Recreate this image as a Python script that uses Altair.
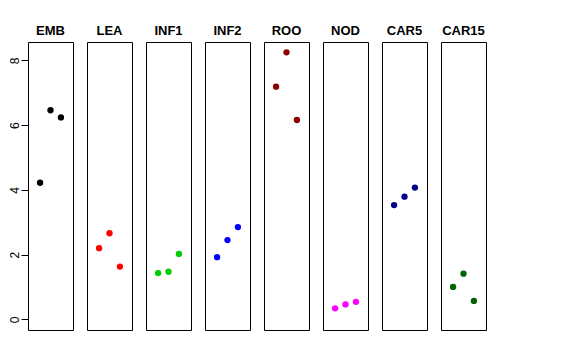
import altair as alt
import pandas as pd

panels = ["EMB", "LEA", "INF1", "INF2", "ROO", "NOD", "CAR5", "CAR15"]
colors = ["#000000", "#FF0000", "#00CD00", "#0000FF", "#8B0000", "#FF00FF", "#00008B", "#006400"]
positions = [1, 2, 3]
values = {
    "EMB": [4.22, 6.46, 6.24],
    "LEA": [2.20, 2.66, 1.63],
    "INF1": [1.43, 1.47, 2.02],
    "INF2": [1.92, 2.45, 2.85],
    "ROO": [7.19, 8.25, 6.16],
    "NOD": [0.34, 0.46, 0.54],
    "CAR5": [3.53, 3.79, 4.07],
    "CAR15": [1.00, 1.41, 0.57],
}
y_ticks = [0, 2, 4, 6, 8]

rows = []
for p in panels:
    for xi, v in zip(positions, values[p]):
        rows.append({"panel": p, "x": xi, "value": v})
df = pd.DataFrame(rows)

chart = (
    alt.Chart(df)
    .mark_circle(size=40, opacity=1)
    .encode(
        x=alt.X("x:Q", axis=None, scale=alt.Scale(domain=[-0.16, 4.16], nice=False, zero=False)),
        y=alt.Y(
            "value:Q",
            title=None,
            scale=alt.Scale(domain=[-0.33, 8.57], nice=False, zero=False),
            axis=alt.Axis(
                values=y_ticks,
                grid=False,
                domain=False,
                tickSize=7,
                tickColor="#000000",
                labelAngle=270,
                labelAlign="center",
                labelBaseline="bottom",
                labelPadding=0,
                labelFont="Liberation Sans",
                labelFontSize=12,
                labelColor="#000000",
            ),
        ),
        color=alt.Color("panel:N", scale=alt.Scale(domain=panels, range=colors), legend=None),
    )
    .properties(width=45, height=288)
    .facet(
        column=alt.Column(
            "panel:N",
            sort=panels,
            header=alt.Header(
                title=None,
                labelFont="Liberation Sans",
                labelFontSize=13,
                labelFontWeight="bold",
                labelColor="#000000",
                labelPadding=4,
            ),
        )
    )
    .properties(
        spacing=14,
        bounds="flush",
        padding={"left": 0, "top": 17, "right": 5, "bottom": 5},
    )
    .configure(background="white")
    .configure_view(stroke="#000000", strokeWidth=1)
)

chart.save("out.html", embed_options={"renderer": "svg", "actions": False})
